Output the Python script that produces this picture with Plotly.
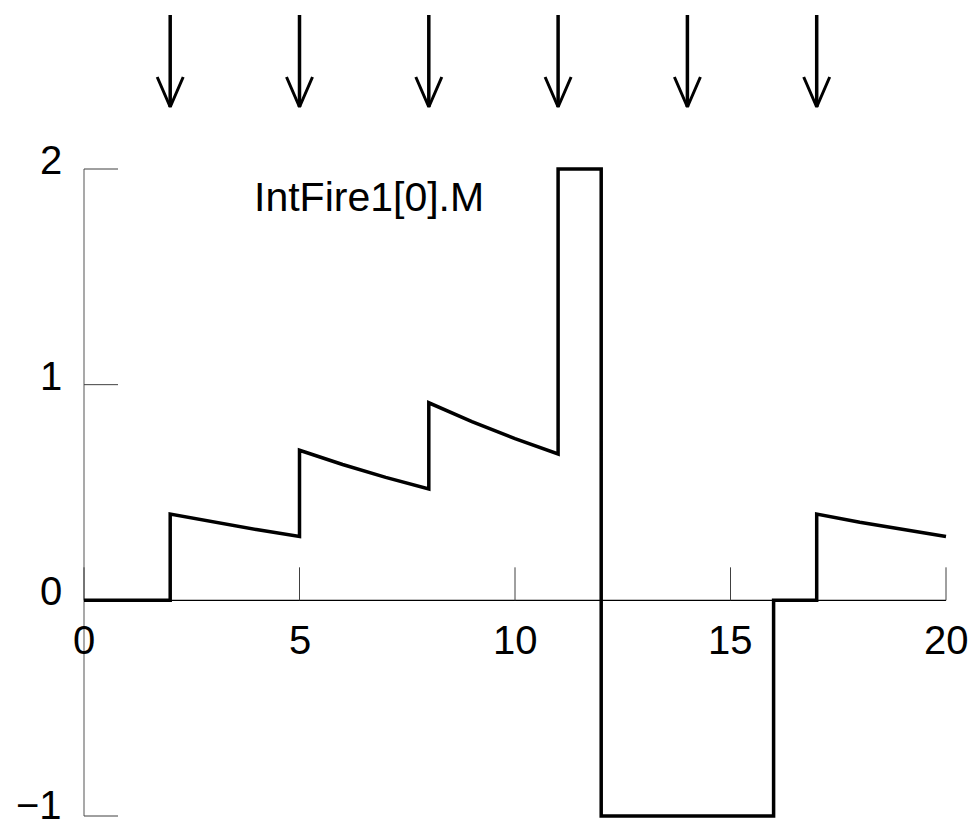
import plotly.graph_objects as go

# ---- data ----
times = [0, 2, 2, 3, 4, 5, 5, 6, 7, 8, 8, 9, 10, 11, 11, 12, 12, 16, 16, 17, 17, 18, 19, 20]
values = [0, 0, 0.40, 0.362, 0.328, 0.296, 0.696, 0.630, 0.570, 0.516,
          0.916, 0.829, 0.750, 0.679, 2.0, 2.0, -1.0, -1.0, 0.0, 0.0,
          0.40, 0.362, 0.328, 0.296]
event_times = [2, 5, 8, 11, 14, 17]
x_ticks = [0, 5, 10, 15, 20]
x_tick_labels = ["0", "5", "10", "15", "20"]
y_ticks = [-1, 0, 1, 2]
y_tick_labels = ["\u22121", "0", "1", "2"]
label_text = "IntFire1[0].M"

# ---- geometry (pixel scale of the reference) ----
W, H = 972, 827
px_x0, px_x20 = 84, 946
px_y2, px_ym1 = 169, 816
sx = (px_x20 - px_x0) / 20.0
sy = (px_ym1 - px_y2) / 3.0
xr = [-px_x0 / sx, (W - px_x0) / sx]
yr = [-1 - (H - px_ym1) / sy, 2 + px_y2 / sy]

def dx(px):
    return px / sx

def dy(px):
    return px / sy

FONT = "Arial, Liberation Sans, sans-serif"

fig = go.Figure()

# main trace
fig.add_trace(go.Scatter(x=times, y=values, mode="lines",
                         line=dict(color="black", width=3.5),
                         hoverinfo="skip", showlegend=False))

# event arrows
top = 2 + dy(px_y2 - 15)
tip = 2 + dy(px_y2 - 107)
wing = 2 + dy(px_y2 - 77)
for t in event_times:
    fig.add_trace(go.Scatter(x=[t, t], y=[top, tip], mode="lines",
                             line=dict(color="black", width=3.5),
                             hoverinfo="skip", showlegend=False))
    fig.add_trace(go.Scatter(x=[t - dx(13), t, t + dx(13)], y=[wing, tip, wing],
                             mode="lines", line=dict(color="black", width=3),
                             hoverinfo="skip", showlegend=False))

shapes = []
# y axis line (gray)
shapes.append(dict(type="line", xref="x", yref="y", x0=0, x1=0, y0=-1, y1=2,
                   line=dict(color="#8c8c8c", width=1.5), layer="below"))
for yt in y_ticks:
    shapes.append(dict(type="line", xref="x", yref="y", x0=0, x1=dx(34), y0=yt, y1=yt,
                       line=dict(color="#404040", width=1), layer="below"))
# x axis line
shapes.append(dict(type="line", xref="x", yref="y", x0=0, x1=20, y0=0, y1=0,
                   line=dict(color="black", width=1.2), layer="below"))
for xt in x_ticks:
    shapes.append(dict(type="line", xref="x", yref="y", x0=xt, x1=xt, y0=0, y1=dy(33),
                       line=dict(color="#404040", width=1), layer="below"))

annotations = []
for xt, lab in zip(x_ticks, x_tick_labels):
    annotations.append(dict(x=xt, y=-dy(40), xref="x", yref="y", text=lab,
                            showarrow=False, xanchor="center", yanchor="middle",
                            font=dict(family=FONT, size=40, color="black")))
for yt, lab in zip(y_ticks, y_tick_labels):
    shift = 9 if yt > -1 else 11
    annotations.append(dict(x=-dx(20), y=yt + dy(shift), xref="x", yref="y", text=lab,
                            showarrow=False, xanchor="right", yanchor="middle",
                            font=dict(family=FONT, size=40, color="black")))
annotations.append(dict(x=dx(369 - px_x0), y=2 - dy(197 - px_y2), xref="x", yref="y",
                        text=label_text, showarrow=False, xanchor="center",
                        yanchor="middle",
                        font=dict(family=FONT, size=41, color="black")))

fig.update_layout(
    width=W, height=H,
    margin=dict(l=0, r=0, t=0, b=0),
    paper_bgcolor="white", plot_bgcolor="white",
    xaxis=dict(range=xr, visible=False, fixedrange=True),
    yaxis=dict(range=yr, visible=False, fixedrange=True),
    shapes=shapes, annotations=annotations,
    showlegend=False,
)

fig.write_html("out.html")
